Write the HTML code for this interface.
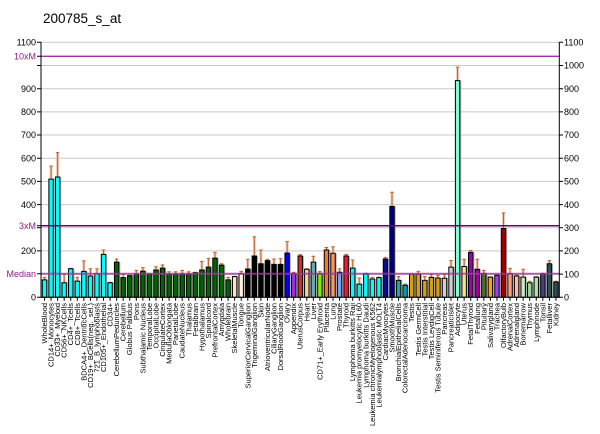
<!DOCTYPE html>
<html><head><meta charset="utf-8"><style>
html,body{margin:0;padding:0;background:#fff}
svg{display:block;font-family:"Liberation Sans",Arial,sans-serif}
.s{fill:#b4b4b4}
.b{stroke:#000;stroke-width:1px;vector-effect:non-scaling-stroke}
.h{stroke:#efcdbd;stroke-width:3px;fill:none;vector-effect:non-scaling-stroke}
.e{stroke:#c0602a;stroke-width:1px;fill:none;vector-effect:non-scaling-stroke}
.t{stroke:#000;stroke-width:1px;vector-effect:non-scaling-stroke}
</style></head><body>
<svg width="600" height="434" viewBox="0 0 600 434" xmlns="http://www.w3.org/2000/svg">
<text x="43" y="23" font-size="13.5" fill="#000">200785_s_at</text>
<g stroke="#c8c8c8" stroke-width="1">
<line x1="41" x2="559" y1="274.1" y2="274.1"/>
<line x1="41" x2="559" y1="250.9" y2="250.9"/>
<line x1="41" x2="559" y1="227.8" y2="227.8"/>
<line x1="41" x2="559" y1="204.6" y2="204.6"/>
<line x1="41" x2="559" y1="181.4" y2="181.4"/>
<line x1="41" x2="559" y1="158.2" y2="158.2"/>
<line x1="41" x2="559" y1="135.0" y2="135.0"/>
<line x1="41" x2="559" y1="111.9" y2="111.9"/>
<line x1="41" x2="559" y1="88.7" y2="88.7"/>
<line x1="41" x2="559" y1="65.5" y2="65.5"/>
<line x1="41" x2="559" y1="42.3" y2="42.3"/>
</g>
<g transform="translate(41.8,297.3) scale(1,-0.2318)">
<g transform="translate(0)"><rect class="s" x="1.5" width="4.9" height="75"/><path class="h" d="M2.7 75V86"/><path class="e" d="M2.7 75V86M0.9 86H4.5"/><rect class="b" x=".5" width="4.4" height="75" fill="#00ffff"/><path class="t" d="M2.7 0V-15"/></g>
<g transform="translate(6.56)"><rect class="s" x="1.5" width="4.9" height="510"/><path class="h" d="M2.7 510V566"/><path class="e" d="M2.7 510V566M0.9 566H4.5"/><rect class="b" x=".5" width="4.4" height="510" fill="#00ffff"/><path class="t" d="M2.7 0V-15"/></g>
<g transform="translate(13.11)"><rect class="s" x="1.5" width="4.9" height="519"/><path class="h" d="M2.7 519V624"/><path class="e" d="M2.7 519V624M0.9 624H4.5"/><rect class="b" x=".5" width="4.4" height="519" fill="#00ffff"/><path class="t" d="M2.7 0V-15"/></g>
<g transform="translate(19.67)"><rect class="s" x="1.5" width="4.9" height="63"/><path class="h" d="M2.7 63V99"/><path class="e" d="M2.7 63V99M0.9 99H4.5"/><rect class="b" x=".5" width="4.4" height="63" fill="#00ffff"/><path class="t" d="M2.7 0V-15"/></g>
<g transform="translate(26.23)"><rect class="s" x="1.5" width="4.9" height="123"/><path class="h" d="M2.7 123V125"/><path class="e" d="M2.7 123V125M0.9 125H4.5"/><rect class="b" x=".5" width="4.4" height="123" fill="#00ffff"/><path class="t" d="M2.7 0V-15"/></g>
<g transform="translate(32.79)"><rect class="s" x="1.5" width="4.9" height="70"/><path class="h" d="M2.7 70V86"/><path class="e" d="M2.7 70V86M0.9 86H4.5"/><rect class="b" x=".5" width="4.4" height="70" fill="#00ffff"/><path class="t" d="M2.7 0V-15"/></g>
<g transform="translate(39.34)"><rect class="s" x="1.5" width="4.9" height="112"/><path class="h" d="M2.7 112V157"/><path class="e" d="M2.7 112V157M0.9 157H4.5"/><rect class="b" x=".5" width="4.4" height="112" fill="#00ffff"/><path class="t" d="M2.7 0V-15"/></g>
<g transform="translate(45.9)"><rect class="s" x="1.5" width="4.9" height="92"/><path class="h" d="M2.7 92V123"/><path class="e" d="M2.7 92V123M0.9 123H4.5"/><rect class="b" x=".5" width="4.4" height="92" fill="#00ffff"/><path class="t" d="M2.7 0V-15"/></g>
<g transform="translate(52.46)"><rect class="s" x="1.5" width="4.9" height="102"/><path class="h" d="M2.7 102V123"/><path class="e" d="M2.7 102V123M0.9 123H4.5"/><rect class="b" x=".5" width="4.4" height="102" fill="#00ffff"/><path class="t" d="M2.7 0V-15"/></g>
<g transform="translate(59.01)"><rect class="s" x="1.5" width="4.9" height="185"/><path class="h" d="M2.7 185V204"/><path class="e" d="M2.7 185V204M0.9 204H4.5"/><rect class="b" x=".5" width="4.4" height="185" fill="#00ffff"/><path class="t" d="M2.7 0V-15"/></g>
<g transform="translate(65.57)"><rect class="s" x="1.5" width="4.9" height="63"/><path class="h" d="M2.7 63V65"/><path class="e" d="M2.7 63V65M0.9 65H4.5"/><rect class="b" x=".5" width="4.4" height="63" fill="#00ffff"/><path class="t" d="M2.7 0V-15"/></g>
<g transform="translate(72.13)"><rect class="s" x="1.5" width="4.9" height="152"/><path class="h" d="M2.7 152V165"/><path class="e" d="M2.7 152V165M0.9 165H4.5"/><rect class="b" x=".5" width="4.4" height="152" fill="#006400"/><path class="t" d="M2.7 0V-15"/></g>
<g transform="translate(78.68)"><rect class="s" x="1.5" width="4.9" height="85"/><path class="h" d="M2.7 85V99"/><path class="e" d="M2.7 85V99M0.9 99H4.5"/><rect class="b" x=".5" width="4.4" height="85" fill="#006400"/><path class="t" d="M2.7 0V-15"/></g>
<g transform="translate(85.24)"><rect class="s" x="1.5" width="4.9" height="93"/><path class="h" d="M2.7 93V95"/><path class="e" d="M2.7 93V95M0.9 95H4.5"/><rect class="b" x=".5" width="4.4" height="93" fill="#006400"/><path class="t" d="M2.7 0V-15"/></g>
<g transform="translate(91.8)"><rect class="s" x="1.5" width="4.9" height="100"/><path class="h" d="M2.7 100V116"/><path class="e" d="M2.7 100V116M0.9 116H4.5"/><rect class="b" x=".5" width="4.4" height="100" fill="#006400"/><path class="t" d="M2.7 0V-15"/></g>
<g transform="translate(98.36)"><rect class="s" x="1.5" width="4.9" height="113"/><path class="h" d="M2.7 113V128"/><path class="e" d="M2.7 113V128M0.9 128H4.5"/><rect class="b" x=".5" width="4.4" height="113" fill="#006400"/><path class="t" d="M2.7 0V-15"/></g>
<g transform="translate(104.91)"><rect class="s" x="1.5" width="4.9" height="100"/><path class="h" d="M2.7 100V103"/><path class="e" d="M2.7 100V103M0.9 103H4.5"/><rect class="b" x=".5" width="4.4" height="100" fill="#006400"/><path class="t" d="M2.7 0V-15"/></g>
<g transform="translate(111.47)"><rect class="s" x="1.5" width="4.9" height="118"/><path class="h" d="M2.7 118V132"/><path class="e" d="M2.7 118V132M0.9 132H4.5"/><rect class="b" x=".5" width="4.4" height="118" fill="#006400"/><path class="t" d="M2.7 0V-15"/></g>
<g transform="translate(118.03)"><rect class="s" x="1.5" width="4.9" height="126"/><path class="h" d="M2.7 126V140"/><path class="e" d="M2.7 126V140M0.9 140H4.5"/><rect class="b" x=".5" width="4.4" height="126" fill="#006400"/><path class="t" d="M2.7 0V-15"/></g>
<g transform="translate(124.58)"><rect class="s" x="1.5" width="4.9" height="100"/><path class="h" d="M2.7 100V110"/><path class="e" d="M2.7 100V110M0.9 110H4.5"/><rect class="b" x=".5" width="4.4" height="100" fill="#006400"/><path class="t" d="M2.7 0V-15"/></g>
<g transform="translate(131.14)"><rect class="s" x="1.5" width="4.9" height="100"/><path class="h" d="M2.7 100V110"/><path class="e" d="M2.7 100V110M0.9 110H4.5"/><rect class="b" x=".5" width="4.4" height="100" fill="#006400"/><path class="t" d="M2.7 0V-15"/></g>
<g transform="translate(137.7)"><rect class="s" x="1.5" width="4.9" height="100"/><path class="h" d="M2.7 100V116"/><path class="e" d="M2.7 100V116M0.9 116H4.5"/><rect class="b" x=".5" width="4.4" height="100" fill="#006400"/><path class="t" d="M2.7 0V-15"/></g>
<g transform="translate(144.25)"><rect class="s" x="1.5" width="4.9" height="100"/><path class="h" d="M2.7 100V110"/><path class="e" d="M2.7 100V110M0.9 110H4.5"/><rect class="b" x=".5" width="4.4" height="100" fill="#006400"/><path class="t" d="M2.7 0V-15"/></g>
<g transform="translate(150.81)"><rect class="s" x="1.5" width="4.9" height="106"/><path class="h" d="M2.7 106V108"/><path class="e" d="M2.7 106V108M0.9 108H4.5"/><rect class="b" x=".5" width="4.4" height="106" fill="#006400"/><path class="t" d="M2.7 0V-15"/></g>
<g transform="translate(157.37)"><rect class="s" x="1.5" width="4.9" height="118"/><path class="h" d="M2.7 118V155"/><path class="e" d="M2.7 118V155M0.9 155H4.5"/><rect class="b" x=".5" width="4.4" height="118" fill="#006400"/><path class="t" d="M2.7 0V-15"/></g>
<g transform="translate(163.93)"><rect class="s" x="1.5" width="4.9" height="130"/><path class="h" d="M2.7 130V168"/><path class="e" d="M2.7 130V168M0.9 168H4.5"/><rect class="b" x=".5" width="4.4" height="130" fill="#006400"/><path class="t" d="M2.7 0V-15"/></g>
<g transform="translate(170.48)"><rect class="s" x="1.5" width="4.9" height="169"/><path class="h" d="M2.7 169V194"/><path class="e" d="M2.7 169V194M0.9 194H4.5"/><rect class="b" x=".5" width="4.4" height="169" fill="#006400"/><path class="t" d="M2.7 0V-15"/></g>
<g transform="translate(177.04)"><rect class="s" x="1.5" width="4.9" height="139"/><path class="h" d="M2.7 139V145"/><path class="e" d="M2.7 139V145M0.9 145H4.5"/><rect class="b" x=".5" width="4.4" height="139" fill="#006400"/><path class="t" d="M2.7 0V-15"/></g>
<g transform="translate(183.6)"><rect class="s" x="1.5" width="4.9" height="75"/><path class="h" d="M2.7 75V86"/><path class="e" d="M2.7 75V86M0.9 86H4.5"/><rect class="b" x=".5" width="4.4" height="75" fill="#006400"/><path class="t" d="M2.7 0V-15"/></g>
<g transform="translate(190.15)"><rect class="s" x="1.5" width="4.9" height="89"/><path class="h" d="M2.7 89V91"/><path class="e" d="M2.7 89V91M0.9 91H4.5"/><rect class="b" x=".5" width="4.4" height="89" fill="#fde5c5"/><path class="t" d="M2.7 0V-15"/></g>
<g transform="translate(196.71)"><rect class="s" x="1.5" width="4.9" height="102"/><path class="h" d="M2.7 102V112"/><path class="e" d="M2.7 102V112M0.9 112H4.5"/><rect class="b" x=".5" width="4.4" height="102" fill="#fff3e0"/><path class="t" d="M2.7 0V-15"/></g>
<g transform="translate(203.27)"><rect class="s" x="1.5" width="4.9" height="122"/><path class="h" d="M2.7 122V164"/><path class="e" d="M2.7 122V164M0.9 164H4.5"/><rect class="b" x=".5" width="4.4" height="122" fill="#000"/><path class="t" d="M2.7 0V-15"/></g>
<g transform="translate(209.82)"><rect class="s" x="1.5" width="4.9" height="178"/><path class="h" d="M2.7 178V261"/><path class="e" d="M2.7 178V261M0.9 261H4.5"/><rect class="b" x=".5" width="4.4" height="178" fill="#000"/><path class="t" d="M2.7 0V-15"/></g>
<g transform="translate(216.38)"><rect class="s" x="1.5" width="4.9" height="145"/><path class="h" d="M2.7 145V204"/><path class="e" d="M2.7 145V204M0.9 204H4.5"/><rect class="b" x=".5" width="4.4" height="145" fill="#000"/><path class="t" d="M2.7 0V-15"/></g>
<g transform="translate(222.94)"><rect class="s" x="1.5" width="4.9" height="158"/><path class="h" d="M2.7 158V164"/><path class="e" d="M2.7 158V164M0.9 164H4.5"/><rect class="b" x=".5" width="4.4" height="158" fill="#000"/><path class="t" d="M2.7 0V-15"/></g>
<g transform="translate(229.5)"><rect class="s" x="1.5" width="4.9" height="142"/><path class="h" d="M2.7 142V165"/><path class="e" d="M2.7 142V165M0.9 165H4.5"/><rect class="b" x=".5" width="4.4" height="142" fill="#000"/><path class="t" d="M2.7 0V-15"/></g>
<g transform="translate(236.05)"><rect class="s" x="1.5" width="4.9" height="142"/><path class="h" d="M2.7 142V167"/><path class="e" d="M2.7 142V167M0.9 167H4.5"/><rect class="b" x=".5" width="4.4" height="142" fill="#000"/><path class="t" d="M2.7 0V-15"/></g>
<g transform="translate(242.61)"><rect class="s" x="1.5" width="4.9" height="191"/><path class="h" d="M2.7 191V240"/><path class="e" d="M2.7 191V240M0.9 240H4.5"/><rect class="b" x=".5" width="4.4" height="191" fill="#0000ff"/><path class="t" d="M2.7 0V-15"/></g>
<g transform="translate(249.17)"><rect class="s" x="1.5" width="4.9" height="103"/><path class="h" d="M2.7 103V108"/><path class="e" d="M2.7 103V108M0.9 108H4.5"/><rect class="b" x=".5" width="4.4" height="103" fill="#9a30e8"/><path class="t" d="M2.7 0V-15"/></g>
<g transform="translate(255.72)"><rect class="s" x="1.5" width="4.9" height="178"/><path class="h" d="M2.7 178V184"/><path class="e" d="M2.7 178V184M0.9 184H4.5"/><rect class="b" x=".5" width="4.4" height="178" fill="#c83232"/><path class="t" d="M2.7 0V-15"/></g>
<g transform="translate(262.28)"><rect class="s" x="1.5" width="4.9" height="121"/><path class="h" d="M2.7 121V123"/><path class="e" d="M2.7 121V123M0.9 123H4.5"/><rect class="b" x=".5" width="4.4" height="121" fill="#f3d4a4"/><path class="t" d="M2.7 0V-15"/></g>
<g transform="translate(268.84)"><rect class="s" x="1.5" width="4.9" height="152"/><path class="h" d="M2.7 152V177"/><path class="e" d="M2.7 152V177M0.9 177H4.5"/><rect class="b" x=".5" width="4.4" height="152" fill="#68a8b0"/><path class="t" d="M2.7 0V-15"/></g>
<g transform="translate(275.39)"><rect class="s" x="1.5" width="4.9" height="103"/><path class="h" d="M2.7 103V112"/><path class="e" d="M2.7 103V112M0.9 112H4.5"/><rect class="b" x=".5" width="4.4" height="103" fill="#7cf000"/><path class="t" d="M2.7 0V-15"/></g>
<g transform="translate(281.95)"><rect class="s" x="1.5" width="4.9" height="204"/><path class="h" d="M2.7 204V215"/><path class="e" d="M2.7 204V215M0.9 215H4.5"/><rect class="b" x=".5" width="4.4" height="204" fill="#f07c24"/><path class="t" d="M2.7 0V-15"/></g>
<g transform="translate(288.51)"><rect class="s" x="1.5" width="4.9" height="190"/><path class="h" d="M2.7 190V218"/><path class="e" d="M2.7 190V218M0.9 218H4.5"/><rect class="b" x=".5" width="4.4" height="190" fill="#ff9464"/><path class="t" d="M2.7 0V-15"/></g>
<g transform="translate(295.07)"><rect class="s" x="1.5" width="4.9" height="108"/><path class="h" d="M2.7 108V123"/><path class="e" d="M2.7 108V123M0.9 123H4.5"/><rect class="b" x=".5" width="4.4" height="108" fill="#7ea2f2"/><path class="t" d="M2.7 0V-15"/></g>
<g transform="translate(301.62)"><rect class="s" x="1.5" width="4.9" height="178"/><path class="h" d="M2.7 178V185"/><path class="e" d="M2.7 178V185M0.9 185H4.5"/><rect class="b" x=".5" width="4.4" height="178" fill="#ee1a3e"/><path class="t" d="M2.7 0V-15"/></g>
<g transform="translate(308.18)"><rect class="s" x="1.5" width="4.9" height="126"/><path class="h" d="M2.7 126V161"/><path class="e" d="M2.7 126V161M0.9 161H4.5"/><rect class="b" x=".5" width="4.4" height="126" fill="#00ffff"/><path class="t" d="M2.7 0V-15"/></g>
<g transform="translate(314.74)"><rect class="s" x="1.5" width="4.9" height="57"/><path class="h" d="M2.7 57V83"/><path class="e" d="M2.7 57V83M0.9 83H4.5"/><rect class="b" x=".5" width="4.4" height="57" fill="#20e8e8"/><path class="t" d="M2.7 0V-15"/></g>
<g transform="translate(321.29)"><rect class="s" x="1.5" width="4.9" height="102"/><path class="h" d="M2.7 102V104"/><path class="e" d="M2.7 102V104M0.9 104H4.5"/><rect class="b" x=".5" width="4.4" height="102" fill="#00ffff"/><path class="t" d="M2.7 0V-15"/></g>
<g transform="translate(327.85)"><rect class="s" x="1.5" width="4.9" height="79"/><path class="h" d="M2.7 79V86"/><path class="e" d="M2.7 79V86M0.9 86H4.5"/><rect class="b" x=".5" width="4.4" height="79" fill="#00ffff"/><path class="t" d="M2.7 0V-15"/></g>
<g transform="translate(334.41)"><rect class="s" x="1.5" width="4.9" height="85"/><path class="h" d="M2.7 85V87"/><path class="e" d="M2.7 85V87M0.9 87H4.5"/><rect class="b" x=".5" width="4.4" height="85" fill="#00ffff"/><path class="t" d="M2.7 0V-15"/></g>
<g transform="translate(340.96)"><rect class="s" x="1.5" width="4.9" height="165"/><path class="h" d="M2.7 165V172"/><path class="e" d="M2.7 165V172M0.9 172H4.5"/><rect class="b" x=".5" width="4.4" height="165" fill="#0b0b8b"/><path class="t" d="M2.7 0V-15"/></g>
<g transform="translate(347.52)"><rect class="s" x="1.5" width="4.9" height="392"/><path class="h" d="M2.7 392V453"/><path class="e" d="M2.7 392V453M0.9 453H4.5"/><rect class="b" x=".5" width="4.4" height="392" fill="#00008b"/><path class="t" d="M2.7 0V-15"/></g>
<g transform="translate(354.08)"><rect class="s" x="1.5" width="4.9" height="73"/><path class="h" d="M2.7 73V90"/><path class="e" d="M2.7 73V90M0.9 90H4.5"/><rect class="b" x=".5" width="4.4" height="73" fill="#1aa8a8"/><path class="t" d="M2.7 0V-15"/></g>
<g transform="translate(360.64)"><rect class="s" x="1.5" width="4.9" height="52"/><path class="h" d="M2.7 52V57"/><path class="e" d="M2.7 52V57M0.9 57H4.5"/><rect class="b" x=".5" width="4.4" height="52" fill="#00a0a8"/><path class="t" d="M2.7 0V-15"/></g>
<g transform="translate(367.19)"><rect class="s" x="1.5" width="4.9" height="100"/><path class="h" d="M2.7 100V101"/><path class="e" d="M2.7 100V101M0.9 101H4.5"/><rect class="b" x=".5" width="4.4" height="100" fill="#d8a010"/><path class="t" d="M2.7 0V-15"/></g>
<g transform="translate(373.75)"><rect class="s" x="1.5" width="4.9" height="100"/><path class="h" d="M2.7 100V112"/><path class="e" d="M2.7 100V112M0.9 112H4.5"/><rect class="b" x=".5" width="4.4" height="100" fill="#d8a010"/><path class="t" d="M2.7 0V-15"/></g>
<g transform="translate(380.31)"><rect class="s" x="1.5" width="4.9" height="73"/><path class="h" d="M2.7 73V90"/><path class="e" d="M2.7 73V90M0.9 90H4.5"/><rect class="b" x=".5" width="4.4" height="73" fill="#d8a010"/><path class="t" d="M2.7 0V-15"/></g>
<g transform="translate(386.86)"><rect class="s" x="1.5" width="4.9" height="86"/><path class="h" d="M2.7 86V99"/><path class="e" d="M2.7 86V99M0.9 99H4.5"/><rect class="b" x=".5" width="4.4" height="86" fill="#d8a010"/><path class="t" d="M2.7 0V-15"/></g>
<g transform="translate(393.42)"><rect class="s" x="1.5" width="4.9" height="83"/><path class="h" d="M2.7 83V95"/><path class="e" d="M2.7 83V95M0.9 95H4.5"/><rect class="b" x=".5" width="4.4" height="83" fill="#d8a010"/><path class="t" d="M2.7 0V-15"/></g>
<g transform="translate(399.98)"><rect class="s" x="1.5" width="4.9" height="82"/><path class="h" d="M2.7 82V99"/><path class="e" d="M2.7 82V99M0.9 99H4.5"/><rect class="b" x=".5" width="4.4" height="82" fill="#d0d0d0"/><path class="t" d="M2.7 0V-15"/></g>
<g transform="translate(406.53)"><rect class="s" x="1.5" width="4.9" height="130"/><path class="h" d="M2.7 130V159"/><path class="e" d="M2.7 130V159M0.9 159H4.5"/><rect class="b" x=".5" width="4.4" height="130" fill="#d0d0d0"/><path class="t" d="M2.7 0V-15"/></g>
<g transform="translate(413.09)"><rect class="s" x="1.5" width="4.9" height="935"/><path class="h" d="M2.7 935V993"/><path class="e" d="M2.7 935V993M0.9 993H4.5"/><rect class="b" x=".5" width="4.4" height="935" fill="#7fffd4"/><path class="t" d="M2.7 0V-15"/></g>
<g transform="translate(419.65)"><rect class="s" x="1.5" width="4.9" height="133"/><path class="h" d="M2.7 133V164"/><path class="e" d="M2.7 133V164M0.9 164H4.5"/><rect class="b" x=".5" width="4.4" height="133" fill="#f0e68c"/><path class="t" d="M2.7 0V-15"/></g>
<g transform="translate(426.21)"><rect class="s" x="1.5" width="4.9" height="194"/><path class="h" d="M2.7 194V202"/><path class="e" d="M2.7 194V202M0.9 202H4.5"/><rect class="b" x=".5" width="4.4" height="194" fill="#a000a8"/><path class="t" d="M2.7 0V-15"/></g>
<g transform="translate(432.76)"><rect class="s" x="1.5" width="4.9" height="121"/><path class="h" d="M2.7 121V164"/><path class="e" d="M2.7 121V164M0.9 164H4.5"/><rect class="b" x=".5" width="4.4" height="121" fill="#a0009c"/><path class="t" d="M2.7 0V-15"/></g>
<g transform="translate(439.32)"><rect class="s" x="1.5" width="4.9" height="103"/><path class="h" d="M2.7 103V116"/><path class="e" d="M2.7 103V116M0.9 116H4.5"/><rect class="b" x=".5" width="4.4" height="103" fill="#556b2f"/><path class="t" d="M2.7 0V-15"/></g>
<g transform="translate(445.88)"><rect class="s" x="1.5" width="4.9" height="87"/><path class="h" d="M2.7 87V88"/><path class="e" d="M2.7 87V88M0.9 88H4.5"/><rect class="b" x=".5" width="4.4" height="87" fill="#ffa500"/><path class="t" d="M2.7 0V-15"/></g>
<g transform="translate(452.43)"><rect class="s" x="1.5" width="4.9" height="95"/><path class="h" d="M2.7 95V97"/><path class="e" d="M2.7 95V97M0.9 97H4.5"/><rect class="b" x=".5" width="4.4" height="95" fill="#a040f0"/><path class="t" d="M2.7 0V-15"/></g>
<g transform="translate(458.99)"><rect class="s" x="1.5" width="4.9" height="297"/><path class="h" d="M2.7 297V364"/><path class="e" d="M2.7 297V364M0.9 364H4.5"/><rect class="b" x=".5" width="4.4" height="297" fill="#a00000"/><path class="t" d="M2.7 0V-15"/></g>
<g transform="translate(465.55)"><rect class="s" x="1.5" width="4.9" height="102"/><path class="h" d="M2.7 102V125"/><path class="e" d="M2.7 102V125M0.9 125H4.5"/><rect class="b" x=".5" width="4.4" height="102" fill="#ffa07a"/><path class="t" d="M2.7 0V-15"/></g>
<g transform="translate(472.1)"><rect class="s" x="1.5" width="4.9" height="92"/><path class="h" d="M2.7 92V97"/><path class="e" d="M2.7 92V97M0.9 97H4.5"/><rect class="b" x=".5" width="4.4" height="92" fill="#ffbca4"/><path class="t" d="M2.7 0V-15"/></g>
<g transform="translate(478.66)"><rect class="s" x="1.5" width="4.9" height="87"/><path class="h" d="M2.7 87V121"/><path class="e" d="M2.7 87V121M0.9 121H4.5"/><rect class="b" x=".5" width="4.4" height="87" fill="#c6ecc0"/><path class="t" d="M2.7 0V-15"/></g>
<g transform="translate(485.22)"><rect class="s" x="1.5" width="4.9" height="63"/><path class="h" d="M2.7 63V69"/><path class="e" d="M2.7 63V69M0.9 69H4.5"/><rect class="b" x=".5" width="4.4" height="63" fill="#98d898"/><path class="t" d="M2.7 0V-15"/></g>
<g transform="translate(491.78)"><rect class="s" x="1.5" width="4.9" height="87"/><path class="h" d="M2.7 87V89"/><path class="e" d="M2.7 87V89M0.9 89H4.5"/><rect class="b" x=".5" width="4.4" height="87" fill="#aae4aa"/><path class="t" d="M2.7 0V-15"/></g>
<g transform="translate(498.33)"><rect class="s" x="1.5" width="4.9" height="102"/><path class="h" d="M2.7 102V104"/><path class="e" d="M2.7 102V104M0.9 104H4.5"/><rect class="b" x=".5" width="4.4" height="102" fill="#483d8b"/><path class="t" d="M2.7 0V-15"/></g>
<g transform="translate(504.89)"><rect class="s" x="1.5" width="4.9" height="145"/><path class="h" d="M2.7 145V158"/><path class="e" d="M2.7 145V158M0.9 158H4.5"/><rect class="b" x=".5" width="4.4" height="145" fill="#2f5050"/><path class="t" d="M2.7 0V-15"/></g>
<g transform="translate(511.45)"><rect class="s" x="1.5" width="4.9" height="66"/><path class="h" d="M2.7 66V69"/><path class="e" d="M2.7 66V69M0.9 69H4.5"/><rect class="b" x=".5" width="4.4" height="66" fill="#2f4f4f"/><path class="t" d="M2.7 0V-15"/></g>
</g>
<line x1="41" x2="559.3" y1="273.7" y2="273.7" stroke="#9a3d9a" stroke-width="2" opacity="0.8"/>
<line x1="41" x2="559.3" y1="225.7" y2="225.7" stroke="#6a006a" stroke-width="1.5"/>
<line x1="41" x2="559.3" y1="56.3" y2="56.3" stroke="#a030a8" stroke-width="1.3"/>
<g stroke="#000" stroke-width="1">
<line x1="41" x2="41" y1="42" y2="297.8"/>
<line x1="559.3" x2="559.3" y1="42" y2="297.8"/>
<line x1="41" x2="559.3" y1="297.3" y2="297.3"/>
<path d="M37 42.3H41M37 56.3H41M37 65.5H41M37 88.7H41M37 111.9H41M37 135H41M37 158.2H41M37 181.4H41M37 204.6H41M37 225.7H41M37 227.8H41M37 250.9H41M37 273.7H41M37 297.3H41"/>
<path d="M559.3 42.3H563M559.3 65.5H563M559.3 88.7H563M559.3 111.9H563M559.3 135H563M559.3 158.2H563M559.3 181.4H563M559.3 204.6H563M559.3 227.8H563M559.3 250.9H563M559.3 274.1H563M559.3 297.3H563"/>
</g>
<g font-size="9" text-anchor="end" fill="#000">
<text x="36" y="45.5">1100</text>
<text x="36" y="59.5" fill="#8b1a8b">10xM</text>
<text x="36" y="91.9">900</text>
<text x="36" y="115.1">800</text>
<text x="36" y="138.2">700</text>
<text x="36" y="161.4">600</text>
<text x="36" y="184.6">500</text>
<text x="36" y="207.8">400</text>
<text x="36" y="228.9" fill="#8b1a8b">3xM</text>
<text x="36" y="254.1">200</text>
<text x="36" y="276.9" fill="#8b1a8b">Median</text>
<text x="36" y="300.5">0</text>
</g>
<g font-size="9" fill="#000">
<text x="564" y="45.5">1100</text>
<text x="564" y="68.7">1000</text>
<text x="564" y="91.9">900</text>
<text x="564" y="115.1">800</text>
<text x="564" y="138.2">700</text>
<text x="564" y="161.4">600</text>
<text x="564" y="184.6">500</text>
<text x="564" y="207.8">400</text>
<text x="564" y="231">300</text>
<text x="564" y="254.1">200</text>
<text x="564" y="277.3">100</text>
<text x="564" y="300.5">0</text>
</g>
<g transform="translate(47,303) rotate(-90)" font-size="7.5" text-anchor="end" fill="#000">
<text x="0" y="0">WholeBlood</text>
<text x="0" y="6.56">CD14+_Monocytes</text>
<text x="0" y="13.11">CD33+_Myeloid</text>
<text x="0" y="19.67">CD56+_NKCells</text>
<text x="0" y="26.23">CD4+_Tcells</text>
<text x="0" y="32.79">CD8+_Tcells</text>
<text x="0" y="39.34">BDCA4+_DentriticCells</text>
<text x="0" y="45.9">CD19+_BCells(neg._sel.)</text>
<text x="0" y="52.46">721_B_lymphoblasts</text>
<text x="0" y="59.01">CD105+_Endothelial</text>
<text x="0" y="65.57">CD34+</text>
<text x="0" y="72.13">CerebellumPeduncles</text>
<text x="0" y="78.68">Cerebellum</text>
<text x="0" y="85.24">Globus Pallidus</text>
<text x="0" y="91.8">Pons</text>
<text x="0" y="98.36">Subthalamic Nucleus</text>
<text x="0" y="104.91">TemporalLobe</text>
<text x="0" y="111.47">OccipitalLobe</text>
<text x="0" y="118.03">CingulateCortex</text>
<text x="0" y="124.58">MedullaOblongata</text>
<text x="0" y="131.14">ParietalLobe</text>
<text x="0" y="137.7">CaudateNucleus</text>
<text x="0" y="144.25">Thalamus</text>
<text x="0" y="150.81">Fetalbrain</text>
<text x="0" y="157.37">Hypothalamus</text>
<text x="0" y="163.93">Spinalcord</text>
<text x="0" y="170.48">PrefrontalCortex</text>
<text x="0" y="177.04">Amygdala</text>
<text x="0" y="183.6">Wholebrain</text>
<text x="0" y="190.15">SkeletalMuscle</text>
<text x="0" y="196.71">Tongue</text>
<text x="0" y="203.27">SuperiorCervicalGanglion</text>
<text x="0" y="209.82">TrigeminalGanglion</text>
<text x="0" y="216.38">Skin</text>
<text x="0" y="222.94">AtrioventricularNode</text>
<text x="0" y="229.5">CiliaryGanglion</text>
<text x="0" y="236.05">DorsalRootGanglion</text>
<text x="0" y="242.61">Ovary</text>
<text x="0" y="249.17">Appendix</text>
<text x="0" y="255.72">UterusCorpus</text>
<text x="0" y="262.28">Heart</text>
<text x="0" y="268.84">Liver</text>
<text x="0" y="275.39">CD71+_Early Erythroid</text>
<text x="0" y="281.95">Placenta</text>
<text x="0" y="288.51">Lung</text>
<text x="0" y="295.07">Prostate</text>
<text x="0" y="301.62">Thyroid</text>
<text x="0" y="308.18">Lymphoma burkitts Raji</text>
<text x="0" y="314.74">Leukemia promyelocytic HL60</text>
<text x="0" y="321.29">Lymphoma burkitts Daudi</text>
<text x="0" y="327.85">Leukemia chronicMyelogenous K562</text>
<text x="0" y="334.41">Leukemialymphoblastic MOLT4</text>
<text x="0" y="340.96">CardiacMyocytes</text>
<text x="0" y="347.52">SmoothMuscle</text>
<text x="0" y="354.08">BronchialEpithelialCells</text>
<text x="0" y="360.64">ColorectalAdenocarcinoma</text>
<text x="0" y="367.19">Testis</text>
<text x="0" y="373.75">Testis GermCell</text>
<text x="0" y="380.31">Testis Interstitial</text>
<text x="0" y="386.86">Testis LeydigCell</text>
<text x="0" y="393.42">Testis Seminiferous Tubule</text>
<text x="0" y="399.98">Pancreas</text>
<text x="0" y="406.53">PancreaticIslet</text>
<text x="0" y="413.09">Adipocyte</text>
<text x="0" y="419.65">Uterus</text>
<text x="0" y="426.21">FetalThyroid</text>
<text x="0" y="432.76">Fetallung</text>
<text x="0" y="439.32">Pituitary</text>
<text x="0" y="445.88">Salivarygland</text>
<text x="0" y="452.43">Trachea</text>
<text x="0" y="458.99">OlfactoryBulb</text>
<text x="0" y="465.55">AdrenalCortex</text>
<text x="0" y="472.1">Adrenalgland</text>
<text x="0" y="478.66">Bonemarrow</text>
<text x="0" y="485.22">Thymus</text>
<text x="0" y="491.78">Lymphnode</text>
<text x="0" y="498.33">Tonsil</text>
<text x="0" y="504.89">Fetalliver</text>
<text x="0" y="511.45">Kidney</text>
</g>
</svg>
</body></html>
